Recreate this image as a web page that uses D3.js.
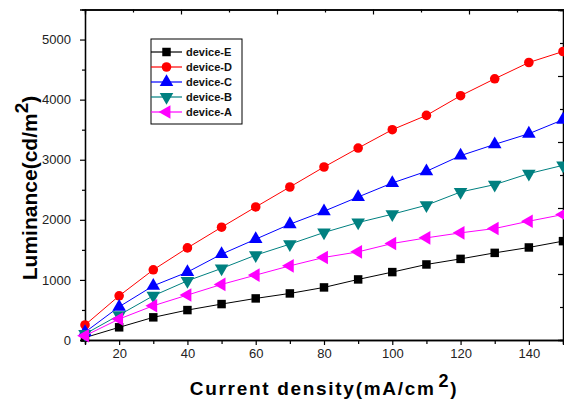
<!DOCTYPE html>
<html>
<head>
<meta charset="utf-8">
<script src="https://cdn.jsdelivr.net/npm/d3@7"></script>
<style>
	body { margin: 0; background: #fff; }
	svg { display: block; font-family: "Liberation Sans", Arial, sans-serif; }
</style>
</head>
<body>
<svg id="chart" width="564" height="402"></svg>
<script>
// current density (mA/cm2)
let currentDensity = [10, 20, 30, 40, 50, 60, 70, 80, 90, 100, 110, 120, 130, 140, 150];

// luminance (cd/m2) per device
let deviceE = [40, 211, 377, 498, 598, 692, 775, 875, 1008, 1130, 1257, 1350, 1450, 1540, 1645];
let deviceD = [250, 735, 1168, 1533, 1877, 2214, 2546, 2879, 3194, 3500, 3738, 4065, 4347, 4618, 4801];
let deviceC = [130, 553, 902, 1130, 1429, 1678, 1927, 2143, 2380, 2613, 2807, 3068, 3256, 3433, 3666];
let deviceB = [100, 415, 736, 985, 1191, 1412, 1595, 1789, 1955, 2093, 2243, 2463, 2586, 2769, 2907];
let deviceA = [70, 349, 570, 748, 925, 1080, 1234, 1374, 1467, 1606, 1700, 1783, 1855, 1977, 2088];

let seriesNames = ["device-E", "device-D", "device-C", "device-B", "device-A"];
let seriesValues = [deviceE, deviceD, deviceC, deviceB, deviceA];

let xMajorTicks = [20, 40, 60, 80, 100, 120, 140];
let xMinorTicks = [10, 30, 50, 70, 90, 110, 130, 150];
let yMajorTicks = [0, 1000, 2000, 3000, 4000, 5000];
let yMinorTicks = [500, 1500, 2500, 3500, 4500];

let colors = ["#000000", "#ff0000", "#0000ff", "#008080", "#ff00ff"];
let symbols = [d3.symbolSquare, d3.symbolCircle, d3.symbolTriangle, d3.symbolTriangle, d3.symbolTriangle];
let rotations = [0, 0, 0, 180, -90];
let symbolSizes = [72, 72, 80, 80, 80];

let plotLeft = 85, plotRight = 563, plotTop = 9.5, plotBottom = 340;
let svg = d3.select("#chart");

let x = d3.scaleLinear().domain([10, 150]).range([plotLeft, plotRight]);
let y = d3.scaleLinear().domain([0, 5500]).range([plotBottom, plotTop]);

// bottom axis
let xMajor = d3.axisBottom(x).tickValues(xMajorTicks).tickSize(5).tickPadding(4).tickFormat(d3.format("d"));
let xMinor = d3.axisBottom(x).tickValues(xMinorTicks).tickSize(4).tickFormat("");
svg.append("g").attr("class", "axis").attr("transform", "translate(0," + plotBottom + ")").call(xMajor);
svg.append("g").attr("class", "axis").attr("transform", "translate(0," + plotBottom + ")").call(xMinor);

// left axis
let yMajor = d3.axisLeft(y).tickValues(yMajorTicks).tickSize(5).tickPadding(9).tickFormat(d3.format("d"));
let yMinor = d3.axisLeft(y).tickValues(yMinorTicks).tickSize(3).tickFormat("");
svg.append("g").attr("class", "axis").attr("transform", "translate(" + plotLeft + ",0)").call(yMajor);
svg.append("g").attr("class", "axis").attr("transform", "translate(" + plotLeft + ",0)").call(yMinor);

// top and right frame axes (own tick spacing, no labels)
let topScale = d3.scaleLinear().domain([0, 10]).range([plotLeft, 565]);
let rightScale = d3.scaleLinear().domain([0, 10]).range([plotBottom, 10]);
let steps = d3.range(1, 10);
svg.append("g").attr("class", "axis").attr("transform", "translate(0," + plotTop + ")")
	.call(d3.axisTop(topScale).tickValues(steps.filter(d => d % 2 == 0)).tickSize(-5).tickFormat(""));
svg.append("g").attr("class", "axis").attr("transform", "translate(0," + plotTop + ")")
	.call(d3.axisTop(topScale).tickValues(steps.filter(d => d % 2 == 1)).tickSize(-3).tickFormat(""));
svg.append("g").attr("class", "axis").attr("transform", "translate(" + plotRight + ",0)")
	.call(d3.axisRight(rightScale).tickValues(steps.filter(d => d % 2 == 0)).tickSize(-5).tickFormat(""));
svg.append("g").attr("class", "axis").attr("transform", "translate(" + plotRight + ",0)")
	.call(d3.axisRight(rightScale).tickValues(steps.filter(d => d % 2 == 1)).tickSize(-3).tickFormat(""));

svg.selectAll(".axis path.domain").attr("stroke", "#000").attr("stroke-width", 1.3);
svg.selectAll(".axis .tick line").attr("stroke", "#000").attr("stroke-width", 1.2);
svg.selectAll(".axis text").attr("font-size", 13).attr("fill", "#222")
	.attr("font-family", "'Liberation Sans', Arial, sans-serif");

// series
let line = d3.line().x(d => x(d[0])).y(d => y(d[1]));
for (let i = 0; i < seriesValues.length; i++) {
	let pts = currentDensity.map((c, j) => [c, seriesValues[i][j]]);
	let g = svg.append("g");
	g.append("path").datum(pts)
		.attr("d", line)
		.attr("fill", "none")
		.attr("stroke", colors[i])
		.attr("stroke-width", 1);
	g.selectAll("path.marker").data(pts).enter().append("path")
		.attr("class", "marker")
		.attr("d", d3.symbol().type(symbols[i]).size(symbolSizes[i]))
		.attr("transform", d => "translate(" + x(d[0]) + "," + y(d[1]) + ") rotate(" + rotations[i] + ")")
		.attr("fill", colors[i]);
}

// legend
let legend = svg.append("g").attr("transform", "translate(151,39)");
legend.append("rect").attr("width", 91).attr("height", 85)
	.attr("fill", "#fff").attr("stroke", "#000").attr("stroke-width", 1);
for (let i = 0; i < seriesNames.length; i++) {
	let ly = 13 + i * 15;
	legend.append("line").attr("x1", 0).attr("x2", 31).attr("y1", ly).attr("y2", ly)
		.attr("stroke", colors[i]).attr("stroke-width", 1.2);
	legend.append("path")
		.attr("d", d3.symbol().type(symbols[i]).size(symbolSizes[i]))
		.attr("transform", "translate(15.5," + ly + ") rotate(" + rotations[i] + ")")
		.attr("fill", colors[i]);
	legend.append("text").attr("x", 35).attr("y", ly + 4)
		.attr("font-size", 11).attr("font-weight", "bold").attr("fill", "#111")
		.text(seriesNames[i]);
}

// axis titles
let xTitle = svg.append("text")
	.attr("x", 324).attr("y", 395)
	.attr("text-anchor", "middle")
	.attr("font-size", 19).attr("font-weight", "bold")
	.attr("letter-spacing", 1.7)
	.attr("fill", "#000");
xTitle.append("tspan").text("Current density(mA/cm");
xTitle.append("tspan").attr("dx", 3).attr("dy", -8).attr("font-size", 18).text("2");
xTitle.append("tspan").attr("dy", 8).text(")");

let yTitle = svg.append("text")
	.attr("transform", "translate(37,188) rotate(-90)")
	.attr("text-anchor", "middle")
	.attr("font-size", 21).attr("font-weight", "bold")
	.attr("fill", "#000");
yTitle.append("tspan").text("Luminance(cd/m");
yTitle.append("tspan").attr("dy", -9).attr("font-size", 19).text("2");
yTitle.append("tspan").attr("dy", 9).text(")");
</script>
</body>
</html>
